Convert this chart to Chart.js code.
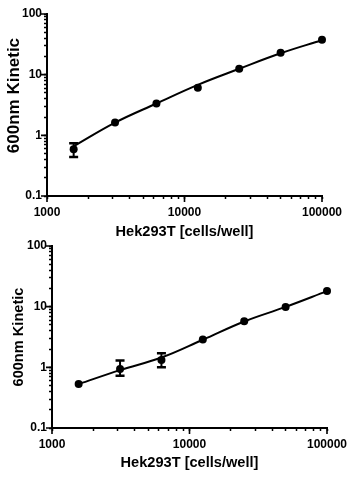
<!DOCTYPE html>
<html>
<head>
<meta charset="utf-8">
<script src="https://cdn.jsdelivr.net/npm/chart.js@4/dist/chart.umd.min.js"></script>
<style>
  html, body { margin: 0; padding: 0; background: #fff; width: 358px; height: 498px; overflow: hidden; }
  canvas { position: absolute; left: 0; display: block; }
</style>
</head>
<body>
<canvas id="c1" width="358" height="245" style="top:0px"></canvas>
<canvas id="c2" width="358" height="266" style="top:232px"></canvas>
<script>
// ---- data ----
const cells = [1562.5, 3125, 6250, 12500, 25000, 50000, 100000];

const topMean = [0.59, 1.63, 3.35, 6.1, 12.5, 23, 37.5];
const topLow  = [0.44, null, null, null, null, null, null];
const topHigh = [0.74, null, null, null, null, null, null];
const topFit  = [0.66, 1.62, 3.35, 6.8, 12.5, 22.5, 37];

const botMean = [0.53, 0.94, 1.32, 2.88, 5.75, 9.9, 18.1];
const botLow  = [null, 0.73, 1.0, null, null, null, null];
const botHigh = [null, 1.29, 1.7, null, null, null, null];
const botFit  = [0.53, 0.9, 1.45, 2.85, 5.7, 9.9, 18];

const xTickValues = [1000, 10000, 100000];
const xTickLabels = ['1000', '10000', '100000'];
const yTickValues = [0.1, 1, 10, 100];
const yTickLabels = ['0.1', '1', '10', '100'];

const xTitle = 'Hek293T [cells/well]';
const yTitle = '600nm Kinetic';

const FONT = "'Liberation Sans', Arial, sans-serif";

function logTicks(min, max) {
  const out = [];
  let p = Math.pow(10, Math.floor(Math.log10(min)));
  while (p <= max * 1.0001) {
    for (let m = 1; m <= 9; m++) {
      const v = Number((m * p).toPrecision(12));
      if (v >= min * 0.9999 && v <= max * 1.0001) out.push(v);
    }
    p *= 10;
  }
  return out;
}
function labelFor(values, labels, v) {
  const i = values.findIndex(t => Math.abs(t - v) / t < 1e-6);
  return i >= 0 ? labels[i] : '';
}

const errorBars = {
  id: 'errorBars',
  afterDatasetsDraw(chart, args, opts) {
    const ctx = chart.ctx, xs = chart.scales.x, ys = chart.scales.y;
    ctx.save();
    ctx.strokeStyle = '#000';
    ctx.lineCap = 'butt';
    opts.low.forEach((lo, i) => {
      const hi = opts.high[i];
      if (lo == null || hi == null) return;
      const px = xs.getPixelForValue(opts.x[i]);
      const y1 = ys.getPixelForValue(lo), y2 = ys.getPixelForValue(hi);
      ctx.lineWidth = 2;
      ctx.beginPath(); ctx.moveTo(px, y1); ctx.lineTo(px, y2); ctx.stroke();
      ctx.lineWidth = 2.5;
      ctx.beginPath();
      ctx.moveTo(px - 4.5, y1); ctx.lineTo(px + 4.5, y1);
      ctx.moveTo(px - 4.5, y2); ctx.lineTo(px + 4.5, y2);
      ctx.stroke();
    });
    ctx.restore();
  }
};

const majorTicks = {
  id: 'majorTicks',
  afterDraw(chart) {
    const ctx = chart.ctx, xs = chart.scales.x, ys = chart.scales.y, a = chart.chartArea;
    ctx.save();
    ctx.strokeStyle = '#000';
    ctx.lineWidth = 1.6;
    ctx.beginPath();
    xTickValues.forEach(v => {
      const px = xs.getPixelForValue(v);
      ctx.moveTo(px, a.bottom); ctx.lineTo(px, a.bottom + 6);
    });
    yTickValues.forEach(v => {
      const py = ys.getPixelForValue(v);
      ctx.moveTo(a.left, py); ctx.lineTo(a.left - 6, py);
    });
    ctx.stroke();
    ctx.restore();
  }
};

function makeChart(id, s) {
  return new Chart(document.getElementById(id), {
    type: 'line',
    data: {
      datasets: [
        {
          data: cells.map((c, i) => ({ x: c, y: s.fit[i] })),
          borderColor: '#000', borderWidth: 2, pointRadius: 0,
          tension: 0.4, fill: false, clip: false
        },
        {
          data: cells.map((c, i) => ({ x: c, y: s.mean[i] })),
          showLine: false, pointRadius: 4, pointHoverRadius: 4,
          pointBackgroundColor: '#000', pointBorderWidth: 0, clip: false
        }
      ]
    },
    options: {
      responsive: false, animation: false, devicePixelRatio: 1,
      layout: { padding: { left: 0, right: s.padRight, top: s.padTop, bottom: 0 } },
      plugins: {
        legend: { display: false }, tooltip: { enabled: false },
        errorBars: { x: cells, low: s.low, high: s.high }
      },
      scales: {
        x: {
          type: 'logarithmic', min: 1000, max: 100000,
          afterFit: sc => { sc.height = s.xHeight; },
          afterBuildTicks: sc => { sc.ticks = logTicks(1000, 100000).map(v => ({ value: v })); },
          border: { display: true, color: '#000', width: 2 },
          grid: { display: true, drawOnChartArea: false, drawTicks: true, tickLength: 3, tickColor: '#000', tickWidth: 1.5 },
          ticks: {
            autoSkip: false, maxRotation: 0, minRotation: 0, padding: 6, color: '#000',
            font: { family: FONT, size: 12, weight: 'bold' },
            callback: v => labelFor(xTickValues, xTickLabels, v)
          },
          title: {
            display: true, text: xTitle, color: '#000',
            font: { family: FONT, size: 14.6, weight: 'bold' },
            padding: { top: 0, bottom: s.xTitlePad }
          }
        },
        y: {
          type: 'logarithmic', min: 0.1, max: 100,
          afterFit: sc => { sc.width = s.yWidth; },
          afterBuildTicks: sc => { sc.ticks = logTicks(0.1, 100).map(v => ({ value: v })); },
          border: { display: true, color: '#000', width: 2 },
          grid: { display: true, drawOnChartArea: false, drawTicks: true, tickLength: 3, tickColor: '#000', tickWidth: 1.5 },
          ticks: {
            autoSkip: false, padding: 2, color: '#000',
            font: { family: FONT, size: 12, weight: 'bold' },
            callback: v => labelFor(yTickValues, yTickLabels, v)
          },
          title: {
            display: true, text: s.yTitleText, color: '#000',
            font: { family: FONT, size: s.yTitleSize, weight: 'bold' },
            padding: { top: s.yTitlePad, bottom: 0 }
          }
        }
      }
    },
    plugins: [errorBars, majorTicks]
  });
}

makeChart('c1', {
  fit: topFit, mean: topMean, low: topLow, high: topHigh,
  padRight: 36, padTop: 14, xHeight: 49, yWidth: 47,
  xTitlePad: 4.5, yTitleSize: 17, yTitlePad: 4, yTitleText: '    ' + yTitle
});
makeChart('c2', {
  fit: botFit, mean: botMean, low: botLow, high: botHigh,
  padRight: 31, padTop: 14, xHeight: 70, yWidth: 52,
  xTitlePad: 26, yTitleSize: 14.6, yTitlePad: 10, yTitleText: yTitle
});
</script>
</body>
</html>
